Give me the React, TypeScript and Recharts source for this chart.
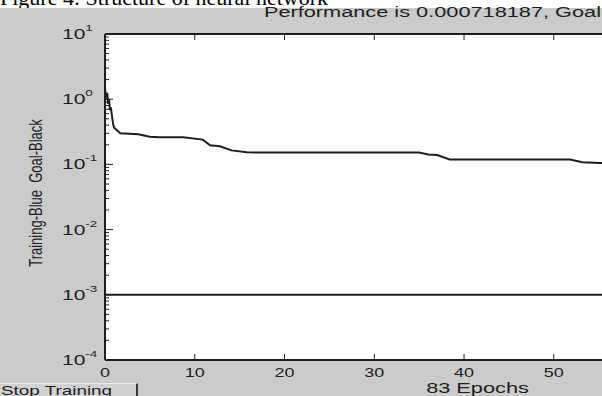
import { LineChart, Line, XAxis, YAxis, CartesianGrid, ReferenceLine } from 'recharts';

const CAPTION = 'Figure 4: Structure of neural network';
const TITLE = 'Performance is 0.000718187, Goal is 0.001';
const X_LABEL = '83 Epochs';
const Y_LABEL = 'Training-Blue  Goal-Black';
const BUTTON_TEXT = 'Stop Training';

const EPOCH_MAX = 83;
const GOAL = 0.001;

// training performance (log scale)
const epochs = [0, 0.15, 0.25, 0.35, 0.45, 0.55, 0.65, 0.8, 0.9, 1, 1.7, 3.7, 5, 6, 8.7, 10.9, 11.7, 12.8, 14.1, 15.8, 19.5, 25, 30, 35, 36, 37, 38.4, 45, 51.8, 53.2, 55.1, 56];
const performance = [1.45, 1.0, 1.25, 0.85, 1.0, 0.68, 0.75, 0.52, 0.42, 0.37, 0.3, 0.29, 0.265, 0.26, 0.26, 0.24, 0.196, 0.19, 0.164, 0.153, 0.152, 0.152, 0.152, 0.152, 0.142, 0.139, 0.119, 0.119, 0.119, 0.108, 0.105, 0.104];

const xTicks = [0, 10, 20, 30, 40, 50, 60, 70, 80];
const yDecades = [-4, -3, -2, -1, 0];
const yMantissas = [1, 2, 3, 4, 5, 6, 7, 8, 9];

const trainRows = epochs.map((epoch, i) => ({ epoch, perf: performance[i] }));
const yTicks = [...yDecades.flatMap((d) => yMantissas.map((m) => m * 10 ** d)), 10];

const INK = '#1e1e1e';
const PANEL = '#cbcbcb';
const FONT = '"Liberation Sans", Arial, sans-serif';
const SX = 1.5; // the scanned figure is stretched sideways

function Wide({ x, y, size, anchor = 'start', sx = SX, children }: any) {
  return (
    <g transform={`translate(${x},${y}) scale(${sx},1)`}>
      <text x={0} y={0} fontSize={size} fontFamily={FONT} fill={INK} textAnchor={anchor} style={{ whiteSpace: 'pre' }}>
        {children}
      </text>
    </g>
  );
}

function YTick({ x, y, payload }: any) {
  const lg = Math.log10(payload.value);
  const exp = Math.round(lg);
  const major = Math.abs(lg - exp) < 1e-6;
  return (
    <g>
      <line x1={x} x2={x + (major ? 8 : 4)} y1={y} y2={y} stroke={INK} strokeWidth={1} />
      {major && (
        <g transform={`translate(62,${y + 5}) scale(${SX},1)`}>
          <text x={0} y={0} fontSize={14} fontFamily={FONT} fill={INK}>
            10
            <tspan dy={-8} fontSize={9}>{exp}</tspan>
          </text>
        </g>
      )}
    </g>
  );
}

function BottomTick({ x, y, payload }: any) {
  return (
    <g>
      <line x1={x} x2={x} y1={y} y2={y - 6} stroke={INK} strokeWidth={1} />
      <Wide x={x} y={y + 17} size={12} anchor="middle">{payload.value}</Wide>
    </g>
  );
}

function TopTick({ x, y }: any) {
  return <line x1={x} x2={x} y1={y} y2={y + 6} stroke={INK} strokeWidth={1} />;
}

function TitleLabel({ viewBox }: any) {
  const cx = viewBox ? viewBox.x + viewBox.width / 2 : 477;
  return <Wide x={cx - 4} y={17} size={14.5} anchor="middle">{TITLE}</Wide>;
}

function XLabel({ viewBox }: any) {
  const cx = viewBox ? viewBox.x + viewBox.width / 2 : 477;
  return <Wide x={cx} y={393} size={14.5} anchor="middle">{X_LABEL}</Wide>;
}

function YLabel() {
  return (
    <g transform="translate(36,193) scale(1.35,1) rotate(-90)">
      <text x={0} y={0} dy="0.35em" fontSize={13} fontFamily={FONT} fill={INK} textAnchor="middle" style={{ whiteSpace: 'pre' }}>
        {Y_LABEL}
      </text>
    </g>
  );
}

export default function App() {
  return (
    <div style={{ position: 'absolute', left: 0, top: 0, width: 602, height: 396, overflow: 'hidden', background: '#fff' }}>
      <svg width={602} height={12} style={{ position: 'absolute', left: 0, top: 0 }}>
        <text x={0} y={5} fontSize={22} fontFamily='"Liberation Serif", "Times New Roman", serif' fill="#000">
          {CAPTION}
        </text>
      </svg>
      <div style={{ position: 'absolute', left: 0, top: 8, width: 602, height: 388, background: PANEL }} />
      <div
        style={{
          position: 'absolute',
          left: -2,
          top: 383,
          width: 138,
          height: 16,
          background: '#d2d2d2',
          borderTop: '1px solid #ececec',
          borderRight: '2px solid #3a3a3a',
        }}
      >
        <svg width={138} height={16} style={{ display: 'block' }}>
          <Wide x={3} y={11} size={13} sx={1.45}>{BUTTON_TEXT}</Wide>
        </svg>
      </div>
      <div style={{ position: 'absolute', left: 0, top: 0 }}>
        <LineChart width={870} height={396} data={trainRows} margin={{ top: 0, right: 20, bottom: 0, left: 0 }}>
          <CartesianGrid xAxisId="bottom" horizontal={false} vertical={false} fill="#ffffff" fillOpacity={1} />
          <XAxis
            xAxisId="top"
            orientation="top"
            type="number"
            dataKey="epoch"
            domain={[0, EPOCH_MAX]}
            ticks={xTicks}
            interval={0}
            height={34}
            tickSize={0}
            tickMargin={0}
            tickLine={false}
            axisLine={{ stroke: INK, strokeWidth: 2 }}
            tick={<TopTick />}
            label={{ content: <TitleLabel /> }}
          />
          <XAxis
            xAxisId="bottom"
            type="number"
            dataKey="epoch"
            domain={[0, EPOCH_MAX]}
            ticks={xTicks}
            interval={0}
            height={36}
            tickSize={0}
            tickMargin={0}
            tickLine={false}
            axisLine={{ stroke: INK, strokeWidth: 2 }}
            tick={<BottomTick />}
            label={{ content: <XLabel /> }}
          />
          <YAxis
            scale="log"
            domain={[1e-4, 10]}
            ticks={yTicks}
            interval={0}
            allowDataOverflow
            width={105}
            tickSize={0}
            tickMargin={0}
            tickLine={false}
            axisLine={{ stroke: INK, strokeWidth: 2 }}
            tick={<YTick />}
            label={{ content: <YLabel /> }}
          />
          <ReferenceLine xAxisId="bottom" y={GOAL} stroke={INK} strokeWidth={2} />
          <Line
            xAxisId="bottom"
            type="linear"
            dataKey="perf"
            stroke={INK}
            strokeWidth={2}
            dot={false}
            isAnimationActive={false}
          />
        </LineChart>
      </div>
    </div>
  );
}
